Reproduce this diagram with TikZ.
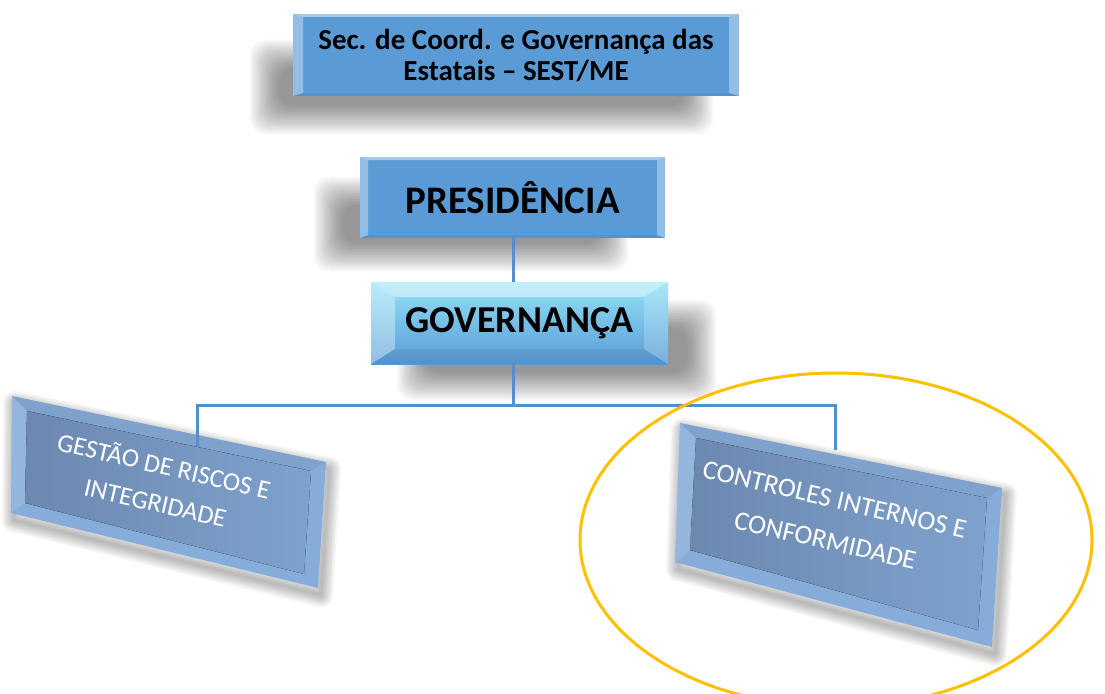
\documentclass[tikz,border=0pt]{standalone}
\usepackage{fontspec}
\setmainfont{Carlito}
\usetikzlibrary{calc}
\definecolor{boxblue}{HTML}{5B9BD5}
\definecolor{govtop}{HTML}{92E2F7}
\definecolor{linecol}{HTML}{5090CC}
\definecolor{rface}{HTML}{6C88AF}
\definecolor{rface2}{HTML}{7EA2CD}
\definecolor{redge}{HTML}{86ADD9}
\definecolor{ringcol}{HTML}{FFC000}
\newcommand\softshadow[5]{%
  \foreach \k in {0,...,19}{%
    \fill[black,opacity=#5,rounded corners=16pt]
      (#1-\k*1.5,#2-\k*1.5) rectangle (#3+\k*1.5,#4+\k*1.5);
  }}
\newcommand\polyshadow[4]{%
  \foreach \k in {1,...,8}{%
    \draw[black,draw opacity=0.035,line width=\k*3pt,line join=round]
      ([shift={(3,7)}]#1)--([shift={(3,7)}]#2)--([shift={(3,7)}]#3)--([shift={(3,7)}]#4)--cycle;
  }}
\newcommand\bevelpp[6]{%
  \path (path picture bounding box.north west) coordinate (bNW)
        (path picture bounding box.north east) coordinate (bNE)
        (path picture bounding box.south east) coordinate (bSE)
        (path picture bounding box.south west) coordinate (bSW);
  \coordinate (iNW) at ([xshift=#1,yshift=-#2]bNW);
  \coordinate (iNE) at ([xshift=-#1,yshift=-#2]bNE);
  \coordinate (iSE) at ([xshift=-#1,yshift=#2]bSE);
  \coordinate (iSW) at ([xshift=#1,yshift=#2]bSW);
  \fill[white,opacity=#3] (bNW)--(bNE)--(iNE)--(iNW)--cycle;
  \fill[white,opacity=#4] (bNW)--(iNW)--(iSW)--(bSW)--cycle;
  \fill[white,opacity=#5] (bNE)--(iNE)--(iSE)--(bSE)--cycle;
  \fill[black,opacity=#6] (bSW)--(iSW)--(iSE)--(bSE)--cycle;
}
\tikzset{
  box/.style={fill=boxblue, draw=none, align=center, text=black, inner sep=0pt},
  conn/.style={draw=linecol, line width=3pt},
  rtext/.style={text=white, align=center, font=\fontsize{26}{38}\selectfont, inner sep=0pt},
}
\begin{document}
\begin{tikzpicture}[x=1pt,y=-1pt]
\useasboundingbox (0,0) rectangle (1105,693);
\clip (0,0) rectangle (1105,693);
\fill[white] (0,0) rectangle (1105,693);

% shadows of the upper boxes
\softshadow{278}{68}{685}{106}{0.022}
\softshadow{342}{205}{600}{243}{0.022}
\softshadow{425}{328}{688}{372}{0.022}

% top boxes
\node[box, minimum width=446pt, minimum height=82pt,
      font=\bfseries\fontsize{29}{31}\selectfont,
      path picture={\bevelpp{10pt}{3pt}{0.45}{0.35}{0.35}{0.05}}]
  (sest) at (516,55) {Sec. de Coord. e Governança das\\Estatais – SEST/ME};

\node[box, minimum width=305pt, minimum height=81pt,
      font=\bfseries\fontsize{39}{42}\selectfont,
      path picture={\bevelpp{8pt}{3pt}{0.45}{0.35}{0.35}{0.05}}]
  (pres) at (512.5,197.5) {PRESIDÊNCIA};

\node[box, minimum width=297pt, minimum height=82pt,
      top color=govtop, bottom color=boxblue,
      font=\bfseries\fontsize{38}{41}\selectfont,
      path picture={\bevelpp{24pt}{15pt}{0.45}{0.35}{0.2}{0.06}}]
  (gov) at (519.5,323) {GOVERNANÇA};

% rotated box (left)
\coordinate (gA) at (12,396);  \coordinate (gB) at (326,462);
\coordinate (gC) at (318,588); \coordinate (gD) at (11,513);
\coordinate (ga) at (27,411);  \coordinate (gb) at (311,471);
\coordinate (gc) at (304,574); \coordinate (gd) at (25,503);
\polyshadow{gA}{gB}{gC}{gD}
\fill[redge] (gA)--(gB)--(gC)--(gD)--cycle;
\fill[left color=rface, right color=rface2] (ga)--(gb)--(gc)--(gd)--cycle;
\fill[white,opacity=0.12] (gA)--(ga)--(gd)--(gD)--cycle;
\fill[black,opacity=0.06] (gA)--(gB)--(gb)--(ga)--cycle;
\node[rtext, rotate=-13] (gestao) at (160,483) {GESTÃO DE RISCOS E\\INTEGRIDADE};

% rotated box (right)
\coordinate (cA) at (680,423); \coordinate (cB) at (1002,488);
\coordinate (cC) at (992,647); \coordinate (cD) at (675,562);
\coordinate (ca) at (696,438); \coordinate (cb) at (987,498);
\coordinate (cc) at (978,630); \coordinate (cd) at (690,550);
\polyshadow{cA}{cB}{cC}{cD}
\fill[redge] (cA)--(cB)--(cC)--(cD)--cycle;
\fill[left color=rface, right color=rface2] (ca)--(cb)--(cc)--(cd)--cycle;
\fill[white,opacity=0.12] (cA)--(ca)--(cd)--(cD)--cycle;
\fill[black,opacity=0.06] (cA)--(cB)--(cb)--(ca)--cycle;
\node[rtext, rotate=-13, font=\fontsize{27}{42}\selectfont] (controles) at (830,520) {CONTROLES INTERNOS E\\CONFORMIDADE};

% connectors
\coordinate (bus) at (513,405);
\coordinate (gtop) at (197,447);
\coordinate (ctop) at (835,450);
\draw[conn] (pres.south -| bus) -- (gov.north -| bus);
\draw[conn] (gov.south -| bus) -- (bus) -| (gtop);
\draw[conn] (bus) -| (ctop);

% highlight ellipse
\draw[ringcol, line width=3pt] (836,540) ellipse [x radius=256, y radius=167];
\end{tikzpicture}
\end{document}
